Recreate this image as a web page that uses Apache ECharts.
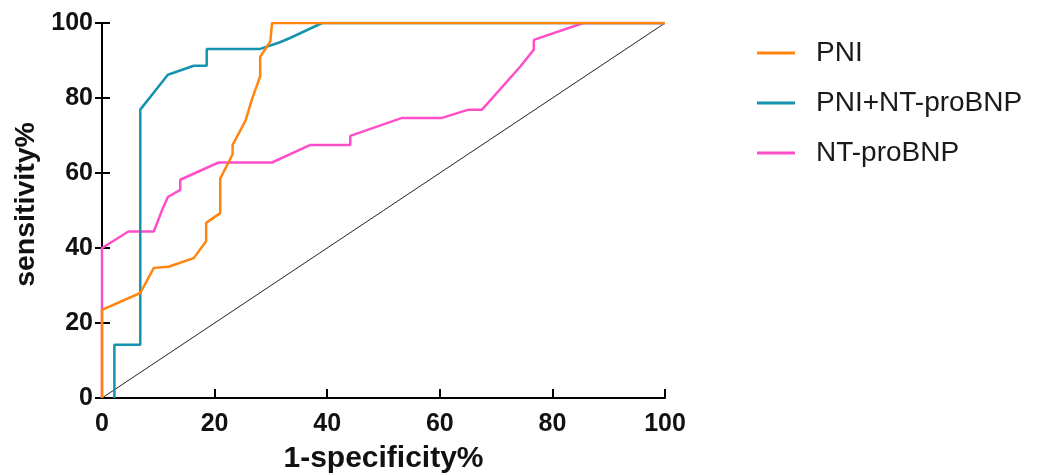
<!DOCTYPE html>
<html>
<head>
<meta charset="utf-8">
<script src="https://cdn.jsdelivr.net/npm/echarts@6/dist/echarts.min.js"></script>
<style>
  html, body { margin: 0; padding: 0; background: #fff; }
  #chart { width: 1055px; height: 475px; }
</style>
</head>
<body>
<div id="chart"></div>
<script>
// ROC curves, values (1-specificity %, sensitivity %)
var pniFpr = [0, 0, 6.8, 9.2, 11.8, 16.3, 18.5, 18.5, 21, 21, 23.2, 23.2, 25.5, 26.6, 28.1, 28.1, 29.9, 30.2, 30.2, 100];
var pniTpr = [0, 23.5, 28, 34.7, 35, 37.3, 41.8, 46.7, 49.3, 58.5, 65, 67.5, 74, 79.5, 85.8, 91, 95.1, 95.5, 100, 100];

var comboFpr = [2.2, 2.2, 6.8, 6.8, 11.7, 16.3, 18.6, 18.6, 28.1, 31.5, 33.4, 39.1, 100];
var comboTpr = [0, 14.2, 14.2, 76.9, 86.2, 88.6, 88.6, 93.1, 93.1, 94.8, 96, 100, 100];

var ntFpr = [0, 0, 4.7, 9.2, 10.7, 11.7, 13.9, 13.9, 20.7, 30.2, 37, 44.1, 44.1, 53.3, 60.4, 65.1, 67.5, 74.3, 76.7, 76.7, 85.5, 100];
var ntTpr = [0, 40, 44.4, 44.4, 50.2, 53.6, 55.5, 58.2, 62.8, 62.8, 67.5, 67.5, 69.9, 74.7, 74.7, 76.9, 76.9, 88.4, 92.9, 95.5, 100, 100];

var refLine = [0, 100];

function pairs(xs, ys) {
    return xs.map(function (x, i) { return [x, ys[i]]; });
}

var myChart = echarts.init(document.getElementById('chart'));

var axisFont = {
    fontFamily: 'Liberation Sans',
    fontWeight: 'bold',
    fontSize: 25,
    color: '#111'
};

var option = {
    animation: false,
    grid: {
        left: 102,
        right: 390,
        top: 23,
        bottom: 77,
        containLabel: false,
        outerBoundsMode: 'none'
    },
    legend: {
        orient: 'vertical',
        left: 752,
        top: 33,
        icon: 'rect',
        itemWidth: 38,
        itemHeight: 3,
        itemGap: 20,
        textStyle: {
            fontFamily: 'Liberation Sans',
            fontSize: 28,
            lineHeight: 30,
            color: '#1a1a1a',
            padding: [0, 0, 0, 16]
        },
        data: ['PNI', 'PNI+NT-proBNP', 'NT-proBNP']
    },
    xAxis: {
        type: 'value',
        min: 0,
        max: 100,
        interval: 20,
        name: '1-specificity%',
        nameLocation: 'middle',
        nameGap: 46,
        nameTextStyle: {
            fontFamily: 'Liberation Sans',
            fontWeight: 'bold',
            fontSize: 30,
            color: '#111'
        },
        axisLine: { lineStyle: { color: '#000', width: 2 } },
        axisTick: { inside: true, length: 9, lineStyle: { color: '#000', width: 2 } },
        axisLabel: Object.assign({ margin: 14 }, axisFont),
        splitLine: { show: false }
    },
    yAxis: [
        {
            type: 'value',
            min: 0,
            max: 100,
            interval: 20,
            name: 'sensitivity%',
            nameLocation: 'middle',
            nameGap: 61,
            nameTextStyle: {
                fontFamily: 'Liberation Sans',
                fontWeight: 'bold',
                fontSize: 28.5,
                color: '#111',
                padding: [0, 0, 0, 12]
            },
            axisLine: { lineStyle: { color: '#000', width: 2 } },
            axisTick: { inside: false, length: 7, lineStyle: { color: '#000', width: 2 } },
            axisLabel: Object.assign({ margin: 9 }, axisFont),
            splitLine: { show: false }
        },
        {
            // inner half of the crossing ticks
            type: 'value',
            position: 'left',
            min: 0,
            max: 100,
            interval: 20,
            axisLine: { show: false },
            axisTick: { show: true, inside: true, length: 8, lineStyle: { color: '#000', width: 2 } },
            axisLabel: { show: false },
            splitLine: { show: false }
        }
    ],
    series: [
        {
            name: 'reference',
            type: 'line',
            data: pairs(refLine, refLine),
            symbol: 'none',
            silent: true,
            lineStyle: { color: '#222', width: 1 },
            z: 1
        },
        {
            name: 'NT-proBNP',
            type: 'line',
            data: pairs(ntFpr, ntTpr),
            symbol: 'none',
            itemStyle: { color: '#ff4fc8' },
            lineStyle: { color: '#ff4fc8', width: 2.5 },
            z: 2
        },
        {
            name: 'PNI+NT-proBNP',
            type: 'line',
            data: pairs(comboFpr, comboTpr),
            symbol: 'none',
            itemStyle: { color: '#1593ae' },
            lineStyle: { color: '#1593ae', width: 2.5 },
            z: 3
        },
        {
            name: 'PNI',
            type: 'line',
            data: pairs(pniFpr, pniTpr),
            symbol: 'none',
            itemStyle: { color: '#ff8410' },
            lineStyle: { color: '#ff8410', width: 2.5 },
            z: 4
        }
    ]
};

myChart.setOption(option);
window.addEventListener('resize', function () {
    myChart.resize();
});
</script>
</body>
</html>
